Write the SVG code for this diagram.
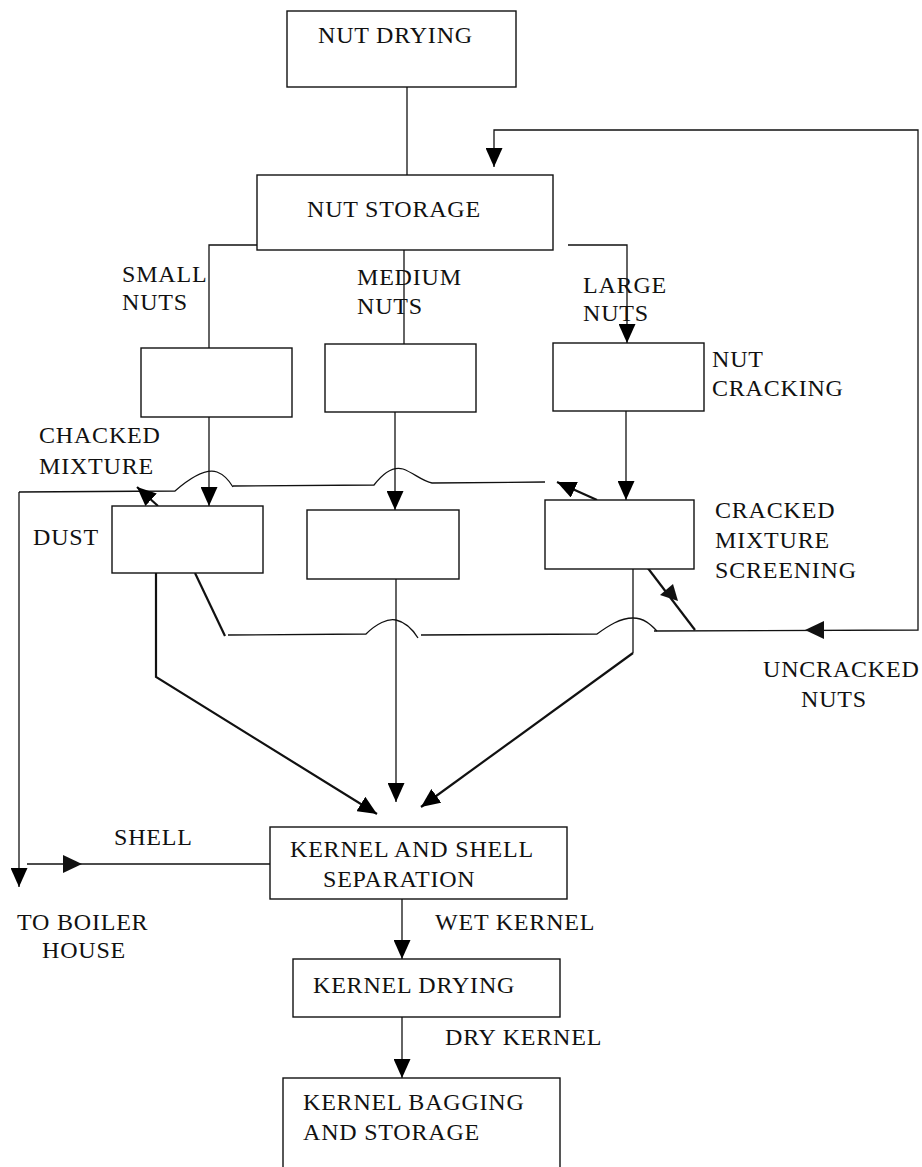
<svg xmlns="http://www.w3.org/2000/svg" width="922" height="1167" viewBox="0 0 922 1167">
<defs>
<marker id="ah" markerUnits="userSpaceOnUse" viewBox="0 0 19 17" markerWidth="19" markerHeight="17" refX="19" refY="8.5" orient="auto">
<path d="M0,0 L19,8.5 L0,17 Z" fill="#000"/>
</marker>
</defs>
<style>
.box{fill:#fff;stroke:#111;stroke-width:1.4}
.ln{fill:none;stroke:#111;stroke-width:1.3}
.thk{fill:none;stroke:#111;stroke-width:2.2}
text{font-family:"Liberation Serif","Times New Roman",serif;font-size:24px;letter-spacing:0.8px;fill:#111}
</style>
<rect width="922" height="1167" fill="#fff"/>
<g id="connectors">
<path class="ln" d="M407,87 L407,175"/>
<path class="ln" d="M257,245 L209,245 L209,348"/>
<path class="ln" d="M404,250 L404,344"/>
<path class="ln" d="M568,245 L627,245 L627,343" marker-end="url(#ah)"/>
<path class="ln" d="M209,417 L209,506" marker-end="url(#ah)"/>
<path class="ln" d="M395,412 L395,510" marker-end="url(#ah)"/>
<path class="ln" d="M626,411 L626,500" marker-end="url(#ah)"/>
<path class="ln" d="M19,492 L175,491 C190,478 205,468 217,472 C225,475 230,482 233,487"/>
<path class="ln" d="M233,486 L374,485 C384,472 393,466 403,469 C414,473 422,481 432,483 L545,482"/>
<path class="ln" d="M19,492 L19,887" marker-end="url(#ah)"/>
<path class="thk" d="M158,506 L137,487" marker-end="url(#ah)"/>
<path class="thk" d="M597,500 L557,482" marker-end="url(#ah)"/>
<path class="thk" d="M195,573 L225,636"/>
<path class="ln" d="M228,635 L366,634 C376,624 388,618 396,620 C405,622 413,630 418,638"/>
<path class="ln" d="M421,635 L597,634 C608,626 620,618 633,618 C645,618 652,626 657,631"/>
<path class="ln" d="M654,631 L918,630 L918,130 L494,130 L494,167" marker-end="url(#ah)"/>
<path d="M805,630 L824,621 L824,639 Z" fill="#111"/>
<path class="thk" d="M647,567 L695,630"/>
<path d="M678,601 L660,595 L673,584 Z" fill="#111"/>
<path class="ln" d="M633,569 L633,653"/>
<path class="thk" d="M633,653 L421,807" marker-end="url(#ah)"/>
<path class="thk" d="M156,573 L156,677 L377,814" marker-end="url(#ah)"/>
<path class="ln" d="M396,579 L396,802" marker-end="url(#ah)"/>
<path class="ln" d="M270,864 L27,864"/>
<path d="M82,864 L63,855 L63,873 Z" fill="#111"/>
<path class="ln" d="M402,899 L402,959" marker-end="url(#ah)"/>
<path class="ln" d="M402,1017 L402,1078" marker-end="url(#ah)"/>
</g>
<g id="nut-drying"><rect class="box" x="287" y="11" width="229" height="76"/><text x="318" y="43">NUT DRYING</text></g>
<g id="nut-storage"><rect class="box" x="257" y="175" width="296" height="75"/><text x="307" y="217">NUT STORAGE</text></g>
<g id="small-cracker"><rect class="box" x="141" y="348" width="151" height="69"/></g>
<g id="medium-cracker"><rect class="box" x="325" y="344" width="151" height="68"/></g>
<g id="large-cracker"><rect class="box" x="553" y="343" width="151" height="68"/></g>
<g id="small-screen"><rect class="box" x="112" y="506" width="151" height="67"/></g>
<g id="medium-screen"><rect class="box" x="307" y="510" width="152" height="69"/></g>
<g id="large-screen"><rect class="box" x="545" y="500" width="149" height="69"/></g>
<g id="kernel-shell-separation"><rect class="box" x="270" y="827" width="297" height="72"/><text x="290" y="857">KERNEL AND SHELL</text><text x="323" y="887">SEPARATION</text></g>
<g id="kernel-drying"><rect class="box" x="293" y="959" width="267" height="58"/><text x="313" y="993">KERNEL DRYING</text></g>
<g id="kernel-bagging"><rect class="box" x="283" y="1078" width="277" height="100"/><text x="303" y="1110">KERNEL BAGGING</text><text x="303" y="1140">AND STORAGE</text></g>
<g id="labels">
<text x="122" y="282">SMALL</text><text x="122" y="310">NUTS</text>
<text x="357" y="285">MEDIUM</text><text x="357" y="314">NUTS</text>
<text x="583" y="293">LARGE</text><text x="583" y="321">NUTS</text>
<text x="712" y="367">NUT</text><text x="712" y="396">CRACKING</text>
<text x="39" y="443">CHACKED</text><text x="39" y="474">MIXTURE</text>
<text x="33" y="545">DUST</text>
<text x="715" y="518">CRACKED</text><text x="715" y="548">MIXTURE</text><text x="715" y="578">SCREENING</text>
<text x="763" y="677">UNCRACKED</text><text x="801" y="707">NUTS</text>
<text x="114" y="845">SHELL</text>
<text x="17" y="930">TO BOILER</text><text x="42" y="958">HOUSE</text>
<text x="435" y="930">WET KERNEL</text>
<text x="445" y="1045">DRY KERNEL</text>
</g>
</svg>
